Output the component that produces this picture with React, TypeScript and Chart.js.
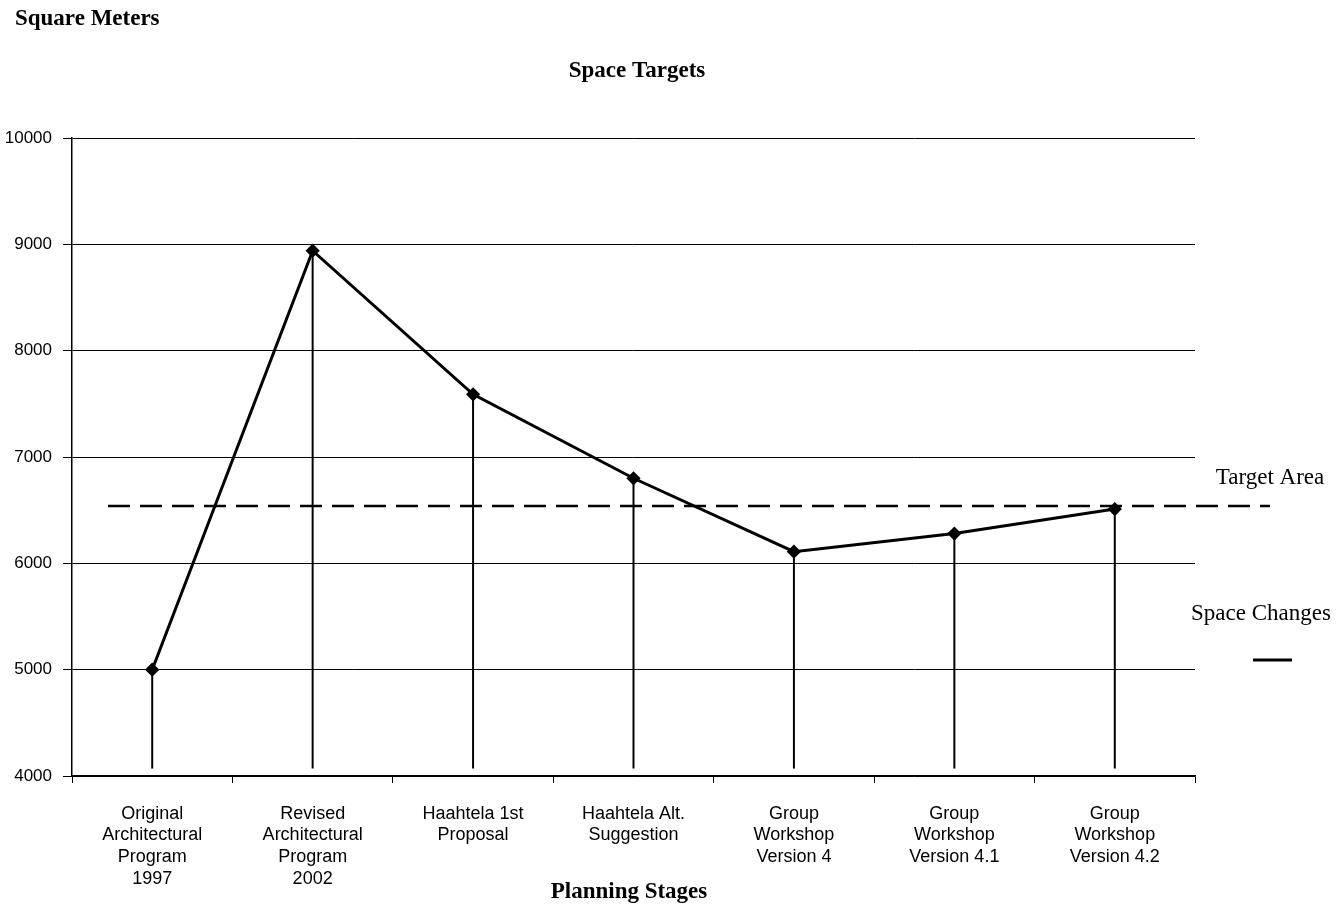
import React, { useEffect, useRef } from "react";
import { Chart, registerables } from "chart.js";

Chart.register(...registerables);

const categories: string[][] = [
  ["Original", "Architectural", "Program", "1997"],
  ["Revised", "Architectural", "Program", "2002"],
  ["Haahtela 1st", "Proposal"],
  ["Haahtela Alt.", "Suggestion"],
  ["Group", "Workshop", "Version 4"],
  ["Group", "Workshop", "Version 4.1"],
  ["Group", "Workshop", "Version 4.2"],
];

const spaceChanges: number[] = [5000, 8940, 7590, 6800, 6110, 6280, 6510];
const targetArea = 6540;
const dropLineBottom = 4070;

const yMin = 4000;
const yMax = 10000;
const yStep = 1000;

const chartTitle = "Space Targets";
const yAxisTitle = "Square Meters";
const xAxisTitle = "Planning Stages";
const targetLabel = "Target Area";
const seriesLabel = "Space Changes";

const serif = "'Liberation Serif', 'Times New Roman', serif";
const sans = "'Liberation Sans', Arial, sans-serif";

const decorPlugin = {
  id: "decor",
  beforeDatasetsDraw(chart: any) {
    const { ctx, scales } = chart;
    const meta = chart.getDatasetMeta(0);
    const yb = scales.y.getPixelForValue(dropLineBottom);
    ctx.save();
    ctx.strokeStyle = "#000";
    ctx.lineWidth = 2;
    meta.data.forEach((pt: any) => {
      ctx.beginPath();
      ctx.moveTo(pt.x, pt.y);
      ctx.lineTo(pt.x, yb);
      ctx.stroke();
    });
    ctx.restore();
  },
  afterDraw(chart: any) {
    const { ctx, scales, chartArea } = chart;
    ctx.save();
    const ty = scales.y.getPixelForValue(targetArea);
    ctx.strokeStyle = "#000";
    ctx.lineWidth = 2.5;
    ctx.setLineDash([22, 10]);
    ctx.beginPath();
    ctx.moveTo(chartArea.left + 36, ty);
    ctx.lineTo(chartArea.right + 75, ty);
    ctx.stroke();
    ctx.setLineDash([]);

    ctx.fillStyle = "#000";
    ctx.textBaseline = "middle";
    ctx.font = `bold 23px ${serif}`;
    ctx.textAlign = "left";
    ctx.fillText(yAxisTitle, 15, 19);
    ctx.textAlign = "center";
    ctx.fillText(chartTitle, 637, 71);
    ctx.fillText(xAxisTitle, 629, 892);

    ctx.font = `23px ${serif}`;
    ctx.textAlign = "center";
    ctx.fillText(targetLabel, 1270, 478);
    ctx.fillText(seriesLabel, 1261, 614);

    ctx.lineWidth = 3;
    ctx.beginPath();
    ctx.moveTo(1253, 660);
    ctx.lineTo(1292, 660);
    ctx.stroke();
    ctx.restore();
  },
};

export default function App() {
  const ref = useRef<HTMLCanvasElement | null>(null);
  useEffect(() => {
    if (!ref.current) return;
    const chart = new Chart(ref.current, {
      type: "line",
      data: {
        labels: categories,
        datasets: [
          {
            label: seriesLabel,
            data: spaceChanges,
            borderColor: "#000",
            backgroundColor: "#000",
            borderWidth: 3,
            pointStyle: "rectRot",
            pointRadius: 5,
            pointBackgroundColor: "#000",
            pointBorderColor: "#000",
            tension: 0,
          },
        ],
      },
      options: {
        responsive: false,
        animation: false,
        layout: { padding: { left: 0, top: 138, right: 147, bottom: 0 } },
        plugins: {
          legend: { display: false },
          title: { display: false },
          tooltip: { enabled: false },
        },
        scales: {
          x: {
            offset: true,
            grid: {
              display: true,
              offset: true,
              drawOnChartArea: false,
              drawTicks: true,
              tickLength: 7,
              color: "#000",
              lineWidth: 1,
            },
            border: { display: true, color: "#000", width: 1.5 },
            ticks: {
              color: "#000",
              font: { family: sans, size: 18, lineHeight: 1.2 },
              padding: 20,
              maxRotation: 0,
              autoSkip: false,
            },
            afterFit(scale: any) {
              scale.height = 131;
            },
          },
          y: {
            min: yMin,
            max: yMax,
            grid: {
              display: true,
              color: "#000",
              lineWidth: 1,
              drawTicks: true,
              tickLength: 9,
            },
            border: { display: true, color: "#000", width: 1.5 },
            ticks: {
              stepSize: yStep,
              color: "#000",
              font: { family: sans, size: 17 },
              padding: 11,
              callback: (v: any) => String(v),
            },
            afterFit(scale: any) {
              scale.width = 72;
            },
          },
        },
      },
      plugins: [decorPlugin],
    });
    return () => chart.destroy();
  }, []);
  return (
    <div style={{ position: "absolute", left: 0, top: 0, width: 1342, height: 907, background: "#fff" }}>
      <canvas ref={ref} width={1342} height={907} style={{ display: "block" }} />
    </div>
  );
}
